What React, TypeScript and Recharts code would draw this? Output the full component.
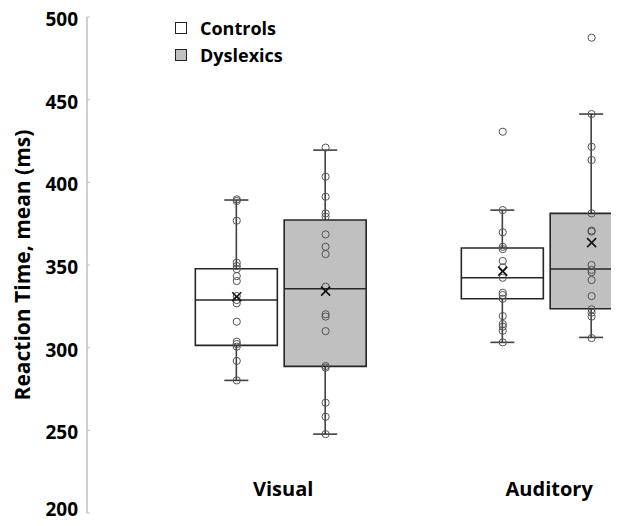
import React from 'react';
import { ComposedChart, Bar, Cell, Scatter, XAxis, YAxis, Legend } from 'recharts';

const categories = ['Visual', 'Auditory'];
const seriesNames = ['Controls', 'Dyslexics'];
const yTicks = [200, 250, 300, 350, 400, 450, 500];

// box stats per category: [min, q1, median, q3, max]
const controlsBox = [
  [280.2, 301.4, 328.8, 347.7, 389.3],
  [303.2, 329.6, 342.3, 360.3, 383.2],
];
const dyslexicsBox = [
  [247.7, 288.7, 335.6, 377.2, 419.5],
  [306.2, 323.5, 347.6, 381.2, 441.3],
];
const controlsMean = [330.8, 346.3];
const dyslexicsMean = [334.2, 363.5];

const controlsPoints = [
  [389.7, 388.7, 376.8, 351.4, 349.4, 347.5, 343.3, 340.3, 331.2, 328.8, 326.8, 315.7, 303.6, 302.2, 300.6, 292, 280.2],
  [430.6, 383.2, 369.8, 361, 359.6, 352.4, 348.6, 342.3, 333.2, 331.8, 329.6, 319.1, 314.3, 312.7, 310.2, 303.2],
];
const dyslexicsPoints = [
  [421, 403.4, 391.3, 381.2, 379.2, 368.5, 361, 356.6, 336.9, 320.2, 318.8, 310, 288.9, 287.9, 266.7, 258.2, 247.7],
  [487.5, 441.3, 421.5, 413.5, 381.2, 370.8, 370.2, 350, 347, 345.6, 340.9, 331.2, 323.2, 321.2, 318.8, 305.8],
];

const FONT = '"Open Sans", sans-serif';
const BOX_W = 82;
const OFFSET = 0.167; // group offset in category units
const fills = ['#ffffff', '#c0c0c0'];

const groups = [controlsBox, dyslexicsBox];
const means = [controlsMean, dyslexicsMean];
const pointSets = [controlsPoints, dyslexicsPoints];

const boxData: any[] = [];
const medianData: any[] = [];
const meanData: any[] = [];
const pointData: any[] = [];
categories.forEach((cat, ci) => {
  groups.forEach((g, gi) => {
    const x = ci + 1 + (gi === 0 ? -OFFSET : OFFSET);
    const [min, q1, med, q3, max] = g[ci];
    boxData.push({ x, box: [q1, q3], whisker: [min, max], series: gi });
    medianData.push({ x, y: med });
    meanData.push({ x, y: means[gi][ci] });
    pointSets[gi][ci].forEach((v) => pointData.push({ x, y: v }));
  });
});

const WhiskerShape = (props: any) => {
  const { x, y, width, height } = props;
  const cx = x + width / 2;
  return (
    <g stroke="#404040" strokeWidth={1.6}>
      <line x1={cx} x2={cx} y1={y} y2={y + height} />
      <line x1={cx - 12} x2={cx + 12} y1={y} y2={y} />
      <line x1={cx - 12} x2={cx + 12} y1={y + height} y2={y + height} />
    </g>
  );
};

const MedianShape = (props: any) => {
  const { cx, cy } = props;
  return <line x1={cx - BOX_W / 2} x2={cx + BOX_W / 2} y1={cy} y2={cy} stroke="#262626" strokeWidth={1.6} />;
};

const MeanShape = (props: any) => {
  const { cx, cy } = props;
  const s = 4.5;
  return (
    <g stroke="#111" strokeWidth={1.6}>
      <line x1={cx - s} y1={cy - s} x2={cx + s} y2={cy + s} />
      <line x1={cx - s} y1={cy + s} x2={cx + s} y2={cy - s} />
    </g>
  );
};

const PointShape = (props: any) => {
  const { cx, cy } = props;
  return <circle cx={cx} cy={cy} r={3.6} fill="none" stroke="#555" strokeWidth={1} />;
};

// keep the lowest label inside the visible frame
const YTick = (props: any) => {
  const { x, y, payload } = props;
  return (
    <g>
      <text x={x} y={Math.min(y + 2, 509)} textAnchor="end" dominantBaseline="central" fontFamily={FONT} fontWeight={700} fontSize={19} fill="#000">
        {payload.value}
      </text>
      <line x1={x + 9} x2={x + 12} y1={y} y2={y} stroke="#bfbfbf" />
    </g>
  );
};

const XTick = (props: any) => {
  const { x, y, payload } = props;
  return (
    <text x={x + 2} y={y - 25} textAnchor="middle" dominantBaseline="central" fontFamily={FONT} fontWeight={700} fontSize={20} fill="#000">
      {categories[payload.value - 1]}
    </text>
  );
};

const LegendContent = () => (
  <div style={{ fontFamily: FONT, fontWeight: 700, fontSize: 18, color: '#000' }}>
    {seriesNames.map((name, i) => (
      <div key={name} style={{ display: 'flex', alignItems: 'center', height: 26.5 }}>
        <span style={{ display: 'inline-block', width: 10, height: 10, border: '1px solid #222', background: fills[i], marginRight: 13 }} />
        <span>{name}</span>
      </div>
    ))}
  </div>
);

export default function App() {
  return (
    <div style={{ width: 611, height: 526, marginTop: -8, marginBottom: -8 }}>
      <ComposedChart width={611} height={526} data={boxData} margin={{ top: 17, right: 0, bottom: 12, left: 0 }}>
        <XAxis
          dataKey="x"
          type="number"
          domain={[0.27, 2.27]}
          ticks={[1, 2]}
          axisLine={false}
          tickLine={false}
          tickSize={0}
          tickMargin={0}
          height={1}
          tick={<XTick />}
        />
        <XAxis xAxisId="w" dataKey="x" type="number" domain={[0.27, 2.27]} hide />
        <YAxis
          type="number"
          domain={[200, 500]}
          ticks={yTicks}
          interval={0}
          width={79}
          axisLine={{ stroke: '#bfbfbf', strokeWidth: 1.5 }}
          tickLine={false}
          tickSize={0}
          tickMargin={9}
          tick={<YTick />}
          label={{
            value: 'Reaction Time, mean (ms)',
            angle: -90,
            position: 'insideLeft',
            offset: 15,
            style: { textAnchor: 'middle', fontFamily: FONT, fontWeight: 700, fontSize: 21, fill: '#000' },
          }}
        />
        <Legend
          layout="vertical"
          align="center"
          verticalAlign="middle"
          content={<LegendContent />}
          wrapperStyle={{ left: 167, top: 15, width: 140 }}
        />
        <Bar xAxisId="w" dataKey="whisker" barSize={BOX_W} shape={<WhiskerShape />} isAnimationActive={false} />
        <Bar dataKey="box" barSize={BOX_W} stroke="#262626" strokeWidth={1.6} isAnimationActive={false}>
          {boxData.map((d, i) => (
            <Cell key={i} fill={fills[d.series]} />
          ))}
        </Bar>
        <Scatter data={medianData} dataKey="y" shape={<MedianShape />} isAnimationActive={false} />
        <Scatter data={pointData} dataKey="y" shape={<PointShape />} isAnimationActive={false} />
        <Scatter data={meanData} dataKey="y" shape={<MeanShape />} isAnimationActive={false} />
      </ComposedChart>
    </div>
  );
}
